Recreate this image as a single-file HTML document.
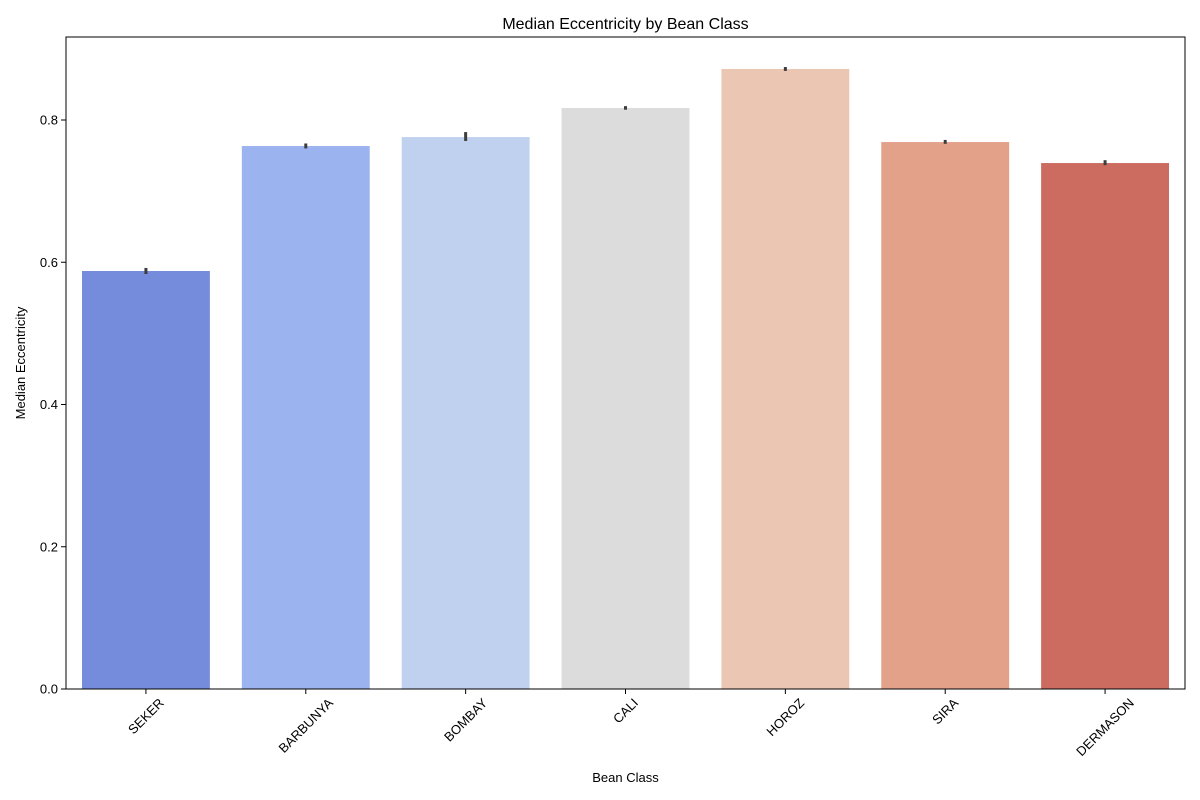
<!DOCTYPE html>
<html><head><meta charset="utf-8"><style>
html,body{margin:0;padding:0;background:#fff;}
svg{display:block;font-family:"Liberation Sans","DejaVu Sans",sans-serif;}
</style></head><body>
<svg id="chart" width="1200" height="800" viewBox="0 0 1200 800">
<text x="625.5" y="29" text-anchor="middle" font-size="16">Median Eccentricity by Bean Class</text>
<text x="625.5" y="782" text-anchor="middle" font-size="13">Bean Class</text>
<text transform="translate(25,363) rotate(-90)" text-anchor="middle" font-size="13">Median Eccentricity</text>
<g id="plot"></g>
</svg>
<script>
const categories = ["SEKER","BARBUNYA","BOMBAY","CALI","HOROZ","SIRA","DERMASON"];
const values = [0.5877,0.7634,0.7760,0.8169,0.8717,0.7690,0.7395];
const errLow = [0.5835,0.7600,0.7705,0.8145,0.8690,0.7665,0.7365];
const errHigh = [0.5920,0.7670,0.7830,0.8195,0.8745,0.7720,0.7435];
const colors = ["#758bdb","#9bb4f0","#c0d0ef","#dcdcdc","#ebc6b3","#e3a18a","#cc6b60"];
const yTicks = [0,0.2,0.4,0.6,0.8];
const yMax = 0.9167;

const L=66,R=1185,T=37,B=689;
const NS="http://www.w3.org/2000/svg";
const g=document.getElementById('plot');
const step=(R-L)/categories.length;
const xC=i=>L+step*(i+0.5);
const y=v=>B-(v/yMax)*(B-T);
function mk(t,a){const e=document.createElementNS(NS,t);for(const k in a)e.setAttribute(k,a[k]);g.appendChild(e);return e;}

categories.forEach((c,i)=>{
  const w=step*0.8;
  const r=mk('rect',{x:xC(i)-w/2,y:y(values[i]),width:w,height:B-y(values[i]),fill:colors[i]});
  
  
  const e=mk('line',{x1:xC(i),x2:xC(i),y1:y(errLow[i]),y2:y(errHigh[i]),stroke:'#3d3d3d','stroke-width':3});
  
  
  const t=mk('line',{x1:xC(i),x2:xC(i),y1:B,y2:B+5,stroke:'#000','stroke-width':1});
  
  
  const lb=mk('text',{x:0,y:0,'text-anchor':'middle','font-size':13});
  lb.textContent=c;
  
  
  const tw=lb.getComputedTextLength();
  const bh=(tw+10)*0.7071;
  const cy=B+8+bh/2;
  lb.setAttribute('x',xC(i));
  lb.setAttribute('y',cy+4.5);
  lb.setAttribute('transform',`rotate(-45 ${xC(i)} ${cy})`);
});
yTicks.forEach(v=>{
  const t=mk('line',{x1:L-5,x2:L,y1:y(v),y2:y(v),stroke:'#000','stroke-width':1});
  
  
  const lb=mk('text',{x:L-8,y:y(v)+4.5,'text-anchor':'end','font-size':13});
  lb.textContent=v.toFixed(1);
  
  
});
const f=mk('rect',{x:L,y:T,width:R-L,height:B-T,fill:'none',stroke:'#000','stroke-width':1});


</script>
</body></html>
